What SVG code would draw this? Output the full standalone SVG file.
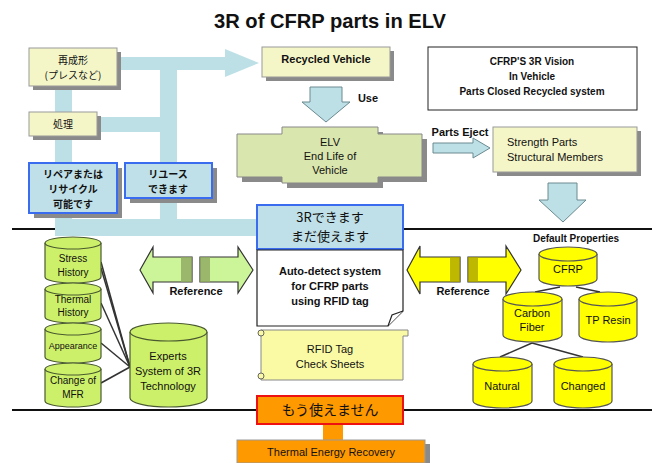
<svg xmlns="http://www.w3.org/2000/svg" width="656" height="463" viewBox="0 0 656 463">
<style>
text{font-family:"Liberation Sans","Noto Sans CJK JP",Arial,sans-serif;fill:#111;text-anchor:middle}
.jp{font-family:"Noto Sans CJK JP","Liberation Sans",sans-serif}
.t11{font-size:11px}
.j10{font-size:10px}
.b{font-weight:bold}
.shadow{fill:#8a8a8a}
.ybox{fill:#f5f6c8;stroke:#999;stroke-width:1}
.bbox{fill:#bfe0e8;stroke:#3a6cf0;stroke-width:2}
.pipe{fill:#bde0e6}
.cylg{fill:#cdf06a;stroke:#4a5a30;stroke-width:1.2}
.cyly{fill:#ffff00;stroke:#555;stroke-width:1.2}
.rule{stroke:#111;stroke-width:2}
.ln{stroke:#333;stroke-width:1.5;fill:none}
</style>

<text x="330" y="28" class="b" style="font-size:20px" textLength="232" lengthAdjust="spacingAndGlyphs">3R of CFRP parts in ELV</text>

<g id="rules">
<line class="rule" x1="12" y1="229" x2="652" y2="229"/>
<line class="rule" x1="12" y1="410" x2="652" y2="410"/>
</g>

<g id="connectors">
  <rect class="pipe" x="117" y="57" width="110" height="13"/>
  <polygon class="pipe" points="225,49 259,63 225,77"/>
  <rect class="pipe" x="160" y="57" width="17" height="179"/>
  <rect class="pipe" x="97" y="117" width="70" height="15"/>
  <rect class="pipe" x="55" y="86" width="17" height="150"/>
  <rect class="pipe" x="55" y="219" width="203" height="17"/>
  <polygon points="310,87 342,87 342,102 350,102 326,122 302,102 310,102" fill="#bde0e6" stroke="#6a8a90" stroke-width="1"/>
  <polygon points="433,143 473,143 473,138 490,148 473,158 473,153 433,153" fill="#bde0e6" stroke="#6a8a90" stroke-width="1"/>
  <polygon points="548,183 577,183 577,200 586,200 563,222 539,200 548,200" fill="#bde0e6" stroke="#6a8a90" stroke-width="1"/>
  <polygon points="140,270 153,247 153,257 192,257 192,282 153,282 153,293" fill="#ccf59a" stroke="#333" stroke-width="1.2"/>
  <rect x="181" y="257" width="11" height="25" fill="#8ea860" opacity="0.8"/>
  <polygon points="253,270 238,247 238,257 200,257 200,282 238,282 238,293" fill="#ccf59a" stroke="#333" stroke-width="1.2"/>
  <rect x="200" y="257" width="10" height="25" fill="#8ea860" opacity="0.8"/>
  <text x="196" y="295" class="t11 b">Reference</text>
  <polygon points="407,270 420,246 420,257 460,257 460,282 420,282 420,294" fill="#ffff00" stroke="#333" stroke-width="1.2"/>
  <rect x="450" y="257" width="10" height="25" fill="#a8a000" opacity="0.75"/>
  <polygon points="521,270 506,246 506,257 468,257 468,282 506,282 506,294" fill="#ffff00" stroke="#333" stroke-width="1.2"/>
  <rect x="468" y="257" width="10" height="25" fill="#a8a000" opacity="0.75"/>
  <text x="463" y="295" class="t11 b">Reference</text>
  <rect x="323" y="424" width="20" height="16" fill="#ff9900"/>
  <line class="ln" x1="101" y1="262" x2="130" y2="367"/>
  <line class="ln" x1="101" y1="268" x2="130" y2="367"/>
  <line class="ln" x1="101" y1="303" x2="130" y2="367"/>
  <line class="ln" x1="101" y1="343" x2="130" y2="367"/>
  <line class="ln" x1="101" y1="383" x2="130" y2="367"/>
  <line class="ln" x1="560" y1="287" x2="535" y2="292"/>
  <line class="ln" x1="576" y1="287" x2="600" y2="292"/>
  <line class="ln" x1="532" y1="343" x2="500" y2="357"/>
  <line class="ln" x1="532" y1="343" x2="583" y2="357"/>
</g>

<g id="saiseikei">
  <rect class="shadow" x="33" y="52" width="88" height="38"/>
  <rect class="ybox" x="29" y="48" width="88" height="38"/>
  <text x="73" y="64" class="j10 jp">再成形</text>
  <text x="73" y="79" class="j10 jp">(プレスなど)</text>
</g>
<g id="shori">
  <rect class="shadow" x="33" y="116" width="68" height="24"/>
  <rect class="ybox" x="29" y="112" width="68" height="24"/>
  <text x="63" y="128" class="j10 jp">処理</text>
</g>
<g id="repair">
  <rect class="shadow" x="34" y="168" width="88" height="50"/>
  <rect class="bbox" x="29" y="163" width="88" height="50"/>
  <text x="73" y="178" class="j10 jp b">リペアまたは</text>
  <text x="73" y="193" class="j10 jp b">リサイクル</text>
  <text x="73" y="208" class="j10 jp b">可能です</text>
</g>
<g id="reuse">
  <rect class="shadow" x="130" y="168" width="87" height="35"/>
  <rect class="bbox" x="125" y="163" width="87" height="35"/>
  <text x="168" y="178" class="j10 jp b">リユース</text>
  <text x="168" y="193" class="j10 jp b">できます</text>
</g>
<g id="recycled-vehicle">
  <rect class="shadow" x="266" y="51" width="128" height="30"/>
  <rect class="ybox" x="262" y="47" width="128" height="30"/>
  <text x="326" y="63" class="t11 b">Recycled Vehicle</text>
</g>
<text x="368" y="102" class="t11 b">Use</text>
<g id="vision">
  <rect x="428" y="47" width="209" height="63" fill="#fff" stroke="#222" stroke-width="1"/>
  <text x="532" y="65" class="b" style="font-size:10px">CFRP'S 3R Vision</text>
  <text x="532" y="80" class="b" style="font-size:10px">In Vehicle</text>
  <text x="532" y="95" class="b" style="font-size:10px">Parts Closed Recycled system</text>
</g>
<g id="elv">
  <path d="M287,132 H383 V139 H427 V182 H383 V188 H287 V182 H242 V139 H287 Z" class="shadow"/>
  <path d="M282,127 H378 V134 H422 V177 H378 V183 H282 V177 H237 V134 H282 Z" fill="#d9e6ae" stroke="#888" stroke-width="1"/>
  <text x="330" y="146" class="t11">ELV</text>
  <text x="330" y="160" class="t11">End Life of</text>
  <text x="330" y="174" class="t11">Vehicle</text>
</g>
<text x="460" y="136" class="t11 b">Parts Eject</text>
<g id="strength">
  <rect class="shadow" x="497" y="131" width="144" height="45"/>
  <rect class="ybox" x="493" y="127" width="144" height="45"/>
  <text x="507" y="146" class="t11" style="text-anchor:start">Strength Parts</text>
  <text x="507" y="161" class="t11" style="text-anchor:start">Structural Members</text>
</g>
<g id="threeR">
  <rect x="257" y="205" width="146" height="44" fill="#bfe0e8" stroke="#3a6cf0" stroke-width="2"/>
  <text x="330" y="222" class="jp" style="font-size:13px">3Rできます</text>
  <text x="330" y="241" class="jp" style="font-size:13px">まだ使えます</text>
</g>
<g id="autodetect">
  <path d="M257,250 H403 V311 L388,326 H257 Z" fill="#fff" stroke="#222" stroke-width="1.2"/>
  <path d="M388,326 L392,315 L403,311" fill="#fff" stroke="#222" stroke-width="1.2"/>
  <text x="330" y="275" class="t11 b">Auto-detect system</text>
  <text x="330" y="290" class="t11 b">for CFRP parts</text>
  <text x="330" y="305" class="t11 b">using RFID tag</text>
</g>
<g id="rfid">
  <path d="M261,330 H408 V336 H403 V380 H261 Z" fill="#fafaa5" stroke="#888" stroke-width="1"/>
  <circle cx="261" cy="333" r="3" fill="#fafaa5" stroke="#666"/>
  <circle cx="261" cy="376" r="3" fill="#fafaa5" stroke="#666"/>
  <text x="330" y="353" class="t11">RFID Tag</text>
  <text x="330" y="368" class="t11">Check Sheets</text>
</g>
<g id="mou">
  <rect x="257" y="396" width="146" height="28" fill="#ff9900" stroke="#ee1111" stroke-width="2"/>
  <text x="330" y="415" class="jp" style="font-size:14px">もう使えません</text>
</g>
<g id="thermal">
  <rect class="shadow" x="424" y="444" width="6" height="19"/>
  <rect x="237" y="440" width="188" height="23" fill="#ff9900" stroke="#999" stroke-width="1"/>
  <text x="331" y="456" class="t11">Thermal Energy Recovery</text>
</g>

<g id="stress">
  <path class="cylg" d="M45,243 V277 A28,6 0 0 0 101,277 V243"/>
  <ellipse class="cylg" cx="73" cy="243" rx="28" ry="6"/>
  <text x="73" y="262" style="font-size:10px">Stress</text>
  <text x="73" y="276" style="font-size:10px">History</text>
</g>
<g id="thermal-history">
  <path class="cylg" d="M45,289 V317 A28,6 0 0 0 101,317 V289"/>
  <ellipse class="cylg" cx="73" cy="289" rx="28" ry="6"/>
  <text x="73" y="303" style="font-size:10px">Thermal</text>
  <text x="73" y="316" style="font-size:10px">History</text>
</g>
<g id="appearance">
  <path class="cylg" d="M45,329 V357 A28,6 0 0 0 101,357 V329"/>
  <ellipse class="cylg" cx="73" cy="329" rx="28" ry="6"/>
  <text x="73" y="349" style="font-size:9px">Appearance</text>
</g>
<g id="mfr">
  <path class="cylg" d="M45,369 V401 A28,6 0 0 0 101,401 V369"/>
  <ellipse class="cylg" cx="73" cy="369" rx="28" ry="6"/>
  <text x="73" y="384" style="font-size:10px">Change of</text>
  <text x="73" y="398" style="font-size:10px">MFR</text>
</g>
<g id="experts">
  <path class="cylg" d="M130,332 V398 A38.5,9 0 0 0 207,398 V332"/>
  <ellipse class="cylg" cx="168.5" cy="332" rx="38.5" ry="9"/>
  <text x="168" y="360" class="t11">Experts</text>
  <text x="168" y="375" class="t11">System of 3R</text>
  <text x="168" y="390" class="t11">Technology</text>
</g>

<text x="576" y="242" class="b" style="font-size:10px">Default Properties</text>
<g id="cfrp">
  <path class="cyly" d="M539,254 V279 A29,7 0 0 0 597,279 V254"/>
  <ellipse class="cyly" cx="568" cy="254" rx="29" ry="7"/>
  <text x="568" y="273" class="t11">CFRP</text>
</g>
<g id="carbon">
  <path class="cyly" d="M503,299 V335 A29.5,7 0 0 0 562,335 V299"/>
  <ellipse class="cyly" cx="532.5" cy="299" rx="29.5" ry="7"/>
  <text x="532" y="317" class="t11">Carbon</text>
  <text x="532" y="331" class="t11">Fiber</text>
</g>
<g id="tpresin">
  <path class="cyly" d="M579,299 V335 A29,7 0 0 0 637,335 V299"/>
  <ellipse class="cyly" cx="608" cy="299" rx="29" ry="7"/>
  <text x="608" y="324" class="t11">TP Resin</text>
</g>
<g id="natural">
  <path class="cyly" d="M473,364 V401 A29.5,7 0 0 0 532,401 V364"/>
  <ellipse class="cyly" cx="502.5" cy="364" rx="29.5" ry="7"/>
  <text x="502" y="390" class="t11">Natural</text>
</g>
<g id="changed">
  <path class="cyly" d="M554,364 V401 A29,7 0 0 0 612,401 V364"/>
  <ellipse class="cyly" cx="583" cy="364" rx="29" ry="7"/>
  <text x="583" y="390" class="t11">Changed</text>
</g>
</svg>
